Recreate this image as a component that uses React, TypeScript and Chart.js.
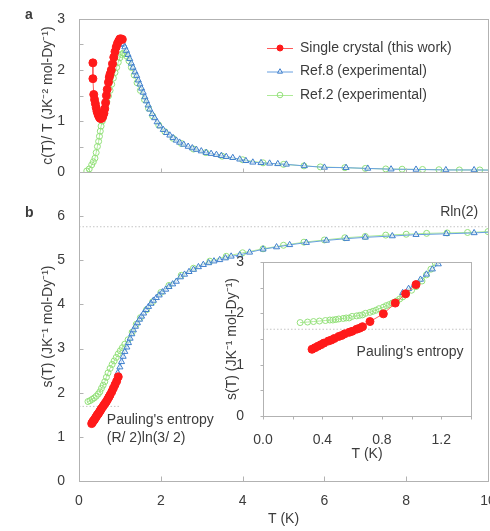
import React, { useEffect, useRef } from 'react';
import { Chart, registerables } from 'chart.js';
Chart.register(...registerables);

const FONT = "'Liberation Sans', Arial, Helvetica, sans-serif";
const TXT = '#3c3c3c';
const AXIS = '#b2b2b2';
const REF = '#c4c4c4';

// ---------- panel a : c(T)/T ----------
const redT_a = [0.34, 0.34, 0.36, 0.38, 0.40, 0.42, 0.44, 0.46, 0.48, 0.50, 0.52, 0.55, 0.58, 0.61, 0.63, 0.65, 0.67, 0.69, 0.72, 0.74, 0.76, 0.79, 0.82, 0.85, 0.88, 0.91, 0.94, 0.97, 1.00, 1.03, 1.06];
const redC_a = [2.14, 1.83, 1.52, 1.42, 1.34, 1.26, 1.19, 1.14, 1.10, 1.07, 1.05, 1.05, 1.08, 1.15, 1.24, 1.36, 1.50, 1.62, 1.76, 1.86, 1.92, 2.00, 2.12, 2.25, 2.36, 2.45, 2.52, 2.57, 2.61, 2.61, 2.60];

const blueT_a = [1.04, 1.08, 1.12, 1.16, 1.20, 1.24, 1.28, 1.32, 1.37, 1.41, 1.45, 1.49, 1.53, 1.57, 1.61, 1.65, 1.69, 1.73, 1.79, 1.85, 1.91, 1.98, 2.06, 2.14, 2.22, 2.30, 2.38, 2.46, 2.56, 2.67, 2.77, 2.87, 2.99, 3.11, 3.23, 3.36, 3.48, 3.60, 3.76, 3.93, 4.08, 4.25, 4.45, 4.66, 4.86, 5.07, 5.51, 6.00, 6.53, 7.06, 7.63, 8.24, 8.97, 9.66, 10.30];
const blueC_a = [2.50, 2.51, 2.45, 2.38, 2.30, 2.22, 2.13, 2.05, 1.96, 1.89, 1.80, 1.72, 1.64, 1.56, 1.47, 1.39, 1.31, 1.23, 1.14, 1.06, 0.98, 0.90, 0.83, 0.77, 0.72, 0.67, 0.62, 0.58, 0.54, 0.50, 0.47, 0.44, 0.41, 0.38, 0.36, 0.34, 0.32, 0.30, 0.28, 0.25, 0.22, 0.19, 0.18, 0.17, 0.16, 0.15, 0.12, 0.09, 0.085, 0.07, 0.055, 0.05, 0.04, 0.04, 0.035];

const greenT_a = [0.19, 0.25, 0.31, 0.35, 0.39, 0.42, 0.45, 0.48, 0.50, 0.52, 0.54, 0.57, 0.59, 0.62, 0.65, 0.68, 0.72, 0.76, 0.80, 0.84, 0.88, 0.92, 0.96, 1.00, 1.04, 1.08, 1.12, 1.17, 1.22, 1.28, 1.35, 1.42, 1.50, 1.60, 1.70, 1.80, 1.95, 2.10, 2.30, 2.50, 2.80, 3.10, 3.50, 4.00, 4.50, 5.00, 5.50, 5.90, 6.50, 7.00, 7.50, 7.90, 8.40, 8.80, 9.30, 9.80, 10.30];
const greenC_a = [0.02, 0.06, 0.14, 0.20, 0.27, 0.38, 0.50, 0.60, 0.70, 0.80, 0.90, 1.00, 1.10, 1.20, 1.29, 1.38, 1.49, 1.60, 1.72, 1.84, 1.95, 2.05, 2.15, 2.24, 2.30, 2.33, 2.32, 2.27, 2.18, 2.05, 1.90, 1.75, 1.60, 1.42, 1.25, 1.10, 0.92, 0.79, 0.66, 0.56, 0.45, 0.38, 0.31, 0.24, 0.18, 0.15, 0.12, 0.10, 0.085, 0.07, 0.06, 0.055, 0.05, 0.045, 0.04, 0.04, 0.035];

// ---------- panel b : s(T) ----------
const redT_b = [0.31, 0.33, 0.35, 0.37, 0.39, 0.41, 0.43, 0.45, 0.47, 0.49, 0.51, 0.53, 0.55, 0.58, 0.61, 0.64, 0.67, 0.70, 0.73, 0.76, 0.80, 0.84, 0.88, 0.92, 0.96];
const redS_b = [1.30, 1.33, 1.36, 1.38, 1.41, 1.44, 1.47, 1.50, 1.52, 1.55, 1.58, 1.61, 1.64, 1.68, 1.72, 1.76, 1.80, 1.85, 1.90, 1.95, 2.02, 2.10, 2.18, 2.26, 2.36];

const blueT_b = [0.95, 1.00, 1.04, 1.08, 1.12, 1.17, 1.21, 1.25, 1.29, 1.33, 1.38, 1.43, 1.48, 1.53, 1.58, 1.64, 1.70, 1.76, 1.82, 1.89, 1.96, 2.04, 2.12, 2.20, 2.29, 2.38, 2.48, 2.58, 2.69, 2.80, 2.92, 3.04, 3.17, 3.30, 3.44, 3.58, 3.72, 3.93, 4.17, 4.50, 4.83, 5.15, 5.56, 6.05, 6.54, 7.00, 7.66, 8.24, 8.98, 9.66, 10.30];
const blueS_b = [2.45, 2.58, 2.70, 2.82, 2.93, 3.03, 3.13, 3.23, 3.33, 3.42, 3.50, 3.58, 3.66, 3.73, 3.80, 3.88, 3.95, 4.02, 4.09, 4.15, 4.21, 4.28, 4.34, 4.40, 4.46, 4.52, 4.62, 4.68, 4.74, 4.79, 4.85, 4.90, 4.94, 4.98, 5.01, 5.05, 5.09, 5.12, 5.18, 5.25, 5.30, 5.35, 5.40, 5.45, 5.49, 5.52, 5.55, 5.58, 5.60, 5.62, 5.65];

const greenT_b = [0.22, 0.27, 0.32, 0.37, 0.42, 0.47, 0.51, 0.55, 0.59, 0.63, 0.67, 0.71, 0.76, 0.81, 0.86, 0.91, 0.96, 1.01, 1.06, 1.12, 1.20, 1.30, 1.40, 1.50, 1.65, 1.80, 2.00, 2.20, 2.50, 2.80, 3.20, 3.60, 4.00, 4.50, 5.00, 5.50, 6.00, 6.50, 7.00, 7.50, 8.00, 8.50, 9.00, 9.50, 10.00, 10.40];
const greenS_b = [1.80, 1.82, 1.85, 1.88, 1.92, 1.97, 2.02, 2.10, 2.17, 2.25, 2.35, 2.45, 2.55, 2.64, 2.72, 2.80, 2.88, 2.95, 3.02, 3.10, 3.20, 3.37, 3.55, 3.70, 3.88, 4.06, 4.27, 4.43, 4.66, 4.82, 4.98, 5.09, 5.17, 5.26, 5.34, 5.41, 5.46, 5.51, 5.54, 5.57, 5.59, 5.61, 5.62, 5.63, 5.65, 5.66];

// ---------- inset ----------
const redT_i = [0.33, 0.35, 0.37, 0.39, 0.41, 0.44, 0.46, 0.48, 0.51, 0.53, 0.55, 0.58, 0.60, 0.63, 0.65, 0.67, 0.72, 0.81, 0.89, 0.96, 1.03];
const redS_i = [1.30, 1.33, 1.36, 1.39, 1.42, 1.46, 1.48, 1.51, 1.55, 1.57, 1.60, 1.63, 1.65, 1.69, 1.71, 1.74, 1.84, 1.99, 2.20, 2.38, 2.56];

const greenT_i = [0.25, 0.30, 0.34, 0.38, 0.42, 0.45, 0.47, 0.49, 0.51, 0.54, 0.56, 0.58, 0.60, 0.63, 0.65, 0.67, 0.69, 0.72, 0.74, 0.76, 0.78, 0.81, 0.83, 0.85, 0.87, 0.90, 0.92, 0.94, 0.96, 1.00, 1.03, 1.07, 1.10, 1.13, 1.16, 1.20];
const greenS_i = [1.82, 1.83, 1.84, 1.85, 1.86, 1.87, 1.87, 1.88, 1.89, 1.90, 1.91, 1.91, 1.94, 1.95, 1.96, 1.97, 2.00, 2.02, 2.04, 2.06, 2.09, 2.12, 2.15, 2.17, 2.20, 2.24, 2.28, 2.32, 2.38, 2.45, 2.52, 2.63, 2.75, 2.86, 2.98, 3.10];

const blueT_i = [0.94, 0.98, 1.02, 1.06, 1.10, 1.14, 1.18, 1.22];
const blueS_i = [2.40, 2.48, 2.56, 2.66, 2.76, 2.86, 2.96, 3.06];

// reference levels
const R_LN2 = 5.76;
const PAULING = 1.69;

// ticks
const xTicksMain = [0, 2, 4, 6, 8, 10];
const yTicksA = [0, 1, 2, 3];
const yMinorA = [0, 0.5, 1, 1.5, 2, 2.5, 3];
const yTicksB = [0, 1, 2, 3, 4, 5, 6];
const xTicksInset = [0, 0.4, 0.8, 1.2];
const xMinorInset = [0, 0.2, 0.4, 0.6, 0.8, 1.0, 1.2, 1.4];
const yTicksInset = [0, 1, 2, 3];
const yMinorInset = [0, 0.5, 1, 1.5, 2, 2.5, 3];

const legendLabels = ['Single crystal (this work)', 'Ref.8 (experimental)', 'Ref.2 (experimental)'];

const pts = (xs: number[], ys: number[]) => xs.map((x, i) => ({ x, y: ys[i] }));

const redDs = (label: string, data: any[]) => ({
  label, data, showLine: true, borderColor: '#ff5a5a', borderWidth: 1,
  pointStyle: 'circle', pointRadius: 4, pointBackgroundColor: '#ff1a1a',
  pointBorderColor: '#ff1a1a', pointBorderWidth: 1,
});
const blueDs = (label: string, data: any[]) => ({
  label, data, showLine: true, borderColor: '#68a0e0', borderWidth: 1,
  pointStyle: 'triangle', pointRadius: 3.5, pointBackgroundColor: 'rgba(255,255,255,0.5)',
  pointBorderColor: '#3f7fcc', pointBorderWidth: 1,
});
const greenDs = (label: string, data: any[]) => ({
  label, data, showLine: true, borderColor: '#aeea98', borderWidth: 1,
  pointStyle: 'circle', pointRadius: 3, pointBackgroundColor: 'rgba(255,255,255,0)',
  pointBorderColor: '#93e07a', pointBorderWidth: 1,
});
const refDs = (y: number, x0: number, x1: number) => ({
  label: 'ref', data: [{ x: x0, y }, { x: x1, y }], showLine: true, borderColor: REF,
  borderWidth: 1, borderDash: [1.5, 2], pointRadius: 0,
});

const font14 = { family: FONT, size: 14 };

function setTicks(vals: number[]) {
  return (s: any) => { s.ticks = vals.map((v) => ({ value: v })); };
}

function drawFrame(chart: any) {
  const { ctx, chartArea: a } = chart;
  ctx.save();
  ctx.strokeStyle = AXIS;
  ctx.lineWidth = 1;
  ctx.strokeRect(Math.round(a.left) + 0.5, Math.round(a.top) + 0.5, Math.round(a.right - a.left), Math.round(a.bottom - a.top));
  ctx.restore();
}

function drawTicks(chart: any, axis: 'x' | 'y', values: number[], len: number, outward: boolean) {
  const { ctx, chartArea: a } = chart;
  const s = chart.scales[axis];
  ctx.save();
  ctx.strokeStyle = AXIS;
  ctx.lineWidth = 1;
  ctx.beginPath();
  for (const v of values) {
    const p = Math.round(s.getPixelForValue(v)) + 0.5;
    if (axis === 'x') {
      const y0 = Math.round(a.bottom) + 0.5;
      ctx.moveTo(p, y0);
      ctx.lineTo(p, outward ? y0 + len : y0 - len);
    } else {
      const x0 = Math.round(a.left) + 0.5;
      ctx.moveTo(x0, p);
      ctx.lineTo(outward ? x0 - len : x0 + len, p);
    }
  }
  ctx.stroke();
  ctx.restore();
}

function drawText(ctx: any, text: string, x: number, y: number, f = `14px ${FONT}`, align = 'left') {
  ctx.save();
  ctx.fillStyle = TXT;
  ctx.font = f;
  ctx.textAlign = align;
  ctx.textBaseline = 'middle';
  ctx.fillText(text, x, y);
  ctx.restore();
}

function dataText(chart: any, text: string, x: number, y: number) {
  const px = chart.scales.x.getPixelForValue(x);
  const py = chart.scales.y.getPixelForValue(y);
  drawText(chart.ctx, text, px, py);
}

function drawMarker(ctx: any, ds: any, x: number, y: number, r: number) {
  ctx.save();
  ctx.lineWidth = 1;
  ctx.strokeStyle = ds.pointBorderColor;
  ctx.fillStyle = ds.pointBackgroundColor;
  ctx.beginPath();
  if (ds.pointStyle === 'triangle') {
    ctx.moveTo(x, y - r);
    ctx.lineTo(x + r * 0.9, y + r * 0.6);
    ctx.lineTo(x - r * 0.9, y + r * 0.6);
    ctx.closePath();
  } else {
    ctx.arc(x, y, r, 0, Math.PI * 2);
  }
  ctx.fill();
  ctx.stroke();
  ctx.restore();
}

function drawLegend(chart: any, x0: number, y0: number, dy: number) {
  const { ctx } = chart;
  legendLabels.forEach((lab, i) => {
    const ds = chart.data.datasets[i];
    const y = y0 + i * dy;
    ctx.save();
    ctx.strokeStyle = ds.borderColor;
    ctx.lineWidth = 1;
    ctx.beginPath();
    ctx.moveTo(x0, y + 0.5);
    ctx.lineTo(x0 + 26, y + 0.5);
    ctx.stroke();
    ctx.restore();
    drawMarker(ctx, ds, x0 + 13, y, i === 0 ? 3 : 2.8);
    drawText(ctx, lab, x0 + 33, y);
  });
}

function configTop(): any {
  return {
    type: 'scatter',
    data: {
      datasets: [
        redDs(legendLabels[0], pts(redT_a, redC_a)),
        blueDs(legendLabels[1], pts(blueT_a, blueC_a)),
        greenDs(legendLabels[2], pts(greenT_a, greenC_a)),
      ],
    },
    options: {
      animation: false, responsive: false, devicePixelRatio: 1,
      layout: { padding: { left: 0, top: 19, right: 22, bottom: 28 } },
      plugins: { legend: { display: false }, tooltip: { enabled: false } },
      scales: {
        x: {
          type: 'linear', min: 0, max: 10,
          grid: { display: false }, border: { display: false },
          ticks: { display: false },
          afterBuildTicks: setTicks(xTicksMain),
          afterFit: (s: any) => { s.height = 0; },
        },
        y: {
          type: 'linear', min: 0, max: 3,
          grid: { display: false }, border: { display: false },
          ticks: { padding: 6, font: font14, color: TXT },
          afterBuildTicks: setTicks(yTicksA),
          afterFit: (s: any) => { s.width = 79; },
          title: { display: true, text: 'c(T)/ T (JK\u207B\u00B2 mol-Dy\u207B\u00B9)', font: font14, color: TXT, padding: { top: 40, bottom: 0 } },
        },
      },
    },
    plugins: [{
      id: 'decorTop',
      afterDraw: (chart: any) => {
        drawFrame(chart);
        drawTicks(chart, 'x', xTicksMain.slice(1, -1), 4, false);
        drawTicks(chart, 'y', yMinorA, 4, false);
        const a = chart.chartArea;
        drawText(chart.ctx, 'a', a.left - 54, a.top - 4, `bold 14px ${FONT}`);
        drawLegend(chart, 267, 48, 23.5);
      },
    }],
  };
}

function configBottom(): any {
  return {
    type: 'scatter',
    data: {
      datasets: [
        redDs(legendLabels[0], pts(redT_b, redS_b)),
        blueDs(legendLabels[1], pts(blueT_b, blueS_b)),
        greenDs(legendLabels[2], pts(greenT_b, greenS_b)),
        refDs(R_LN2, 0, 10),
        refDs(PAULING, 0, 1.0),
      ],
    },
    options: {
      animation: false, responsive: false, devicePixelRatio: 1,
      layout: { padding: { left: 0, top: 22, right: 22, bottom: 0 } },
      plugins: { legend: { display: false }, tooltip: { enabled: false } },
      scales: {
        x: {
          type: 'linear', min: 0, max: 10,
          grid: { display: false }, border: { display: false },
          ticks: { padding: 4, font: font14, color: TXT, maxRotation: 0 },
          afterBuildTicks: setTicks(xTicksMain),
          afterFit: (s: any) => { s.height = 50; },
          title: { display: true, text: 'T (K)', font: font14, color: TXT, padding: { top: 0, bottom: 3 } },
        },
        y: {
          type: 'linear', min: 0, max: 7,
          grid: { display: false }, border: { display: false },
          ticks: { padding: 6, font: font14, color: TXT },
          afterBuildTicks: setTicks(yTicksB),
          afterFit: (s: any) => { s.width = 79; },
          title: { display: true, text: 's(T) (JK\u207B\u00B9 mol-Dy\u207B\u00B9)', font: font14, color: TXT, padding: { top: 40, bottom: 0 } },
        },
      },
    },
    plugins: [{
      id: 'decorBottom',
      afterDraw: (chart: any) => {
        drawFrame(chart);
        drawTicks(chart, 'x', xTicksMain.slice(1, -1), 5, false);
        drawTicks(chart, 'y', yTicksB, 4, false);
        const a = chart.chartArea;
        drawText(chart.ctx, 'b', a.left - 54, a.top + 41, `bold 14px ${FONT}`);
        dataText(chart, 'Rln(2)', 8.83, 6.09);
        dataText(chart, "Pauling's entropy", 0.68, 1.38);
        dataText(chart, '(R/ 2)ln(3/ 2)', 0.68, 0.97);
      },
    }],
  };
}

function configInset(): any {
  return {
    type: 'scatter',
    data: {
      datasets: [
        redDs(legendLabels[0], pts(redT_i, redS_i)),
        blueDs(legendLabels[1], pts(blueT_i, blueS_i)),
        greenDs(legendLabels[2], pts(greenT_i, greenS_i)),
        refDs(PAULING, 0, 1.4),
      ],
    },
    options: {
      animation: false, responsive: false, devicePixelRatio: 1,
      layout: { padding: { left: 0, top: 22, right: 22, bottom: 0 } },
      plugins: { legend: { display: false }, tooltip: { enabled: false } },
      scales: {
        x: {
          type: 'linear', min: 0, max: 1.4,
          grid: { display: false }, border: { display: false },
          ticks: { padding: 8, font: font14, color: TXT, maxRotation: 0, callback: (v: any) => Number(v).toFixed(1) },
          afterBuildTicks: setTicks(xTicksInset),
          afterFit: (s: any) => { s.height = 64; },
          title: { display: true, text: 'T (K)', font: font14, color: TXT, padding: { top: 0, bottom: 17 } },
        },
        y: {
          type: 'linear', min: 0, max: 3,
          grid: { display: false }, border: { display: false },
          ticks: { padding: 11, font: font14, color: TXT },
          afterBuildTicks: setTicks(yTicksInset),
          afterFit: (s: any) => { s.width = 60; },
          title: { display: true, text: 's(T) (JK\u207B\u00B9 mol-Dy\u207B\u00B9)', font: font14, color: TXT, padding: { top: 21, bottom: 0 } },
        },
      },
    },
    plugins: [{
      id: 'decorInset',
      afterDraw: (chart: any) => {
        drawFrame(chart);
        drawTicks(chart, 'x', xMinorInset, 3, true);
        drawTicks(chart, 'y', yMinorInset, 3, true);
        dataText(chart, "Pauling's entropy", 0.63, 1.25);
      },
    }],
  };
}

export default function App() {
  const topRef = useRef<HTMLCanvasElement>(null);
  const botRef = useRef<HTMLCanvasElement>(null);
  const insRef = useRef<HTMLCanvasElement>(null);

  useEffect(() => {
    Chart.defaults.font.family = FONT;
    const c1 = new Chart(topRef.current as HTMLCanvasElement, configTop());
    const c2 = new Chart(botRef.current as HTMLCanvasElement, configBottom());
    const c3 = new Chart(insRef.current as HTMLCanvasElement, configInset());
    return () => { c1.destroy(); c2.destroy(); c3.destroy(); };
  }, []);

  return (
    <div style={{ position: 'fixed', left: 0, top: 0, width: 490, height: 531, overflow: 'hidden', background: '#fff' }}>
      <canvas ref={botRef} width={510} height={381} style={{ position: 'absolute', left: 0, top: 150, width: 510, height: 381 }} />
      <canvas ref={topRef} width={510} height={200} style={{ position: 'absolute', left: 0, top: 0, width: 510, height: 200 }} />
      <canvas ref={insRef} width={290} height={240} style={{ position: 'absolute', left: 203, top: 240, width: 290, height: 240 }} />
    </div>
  );
}
